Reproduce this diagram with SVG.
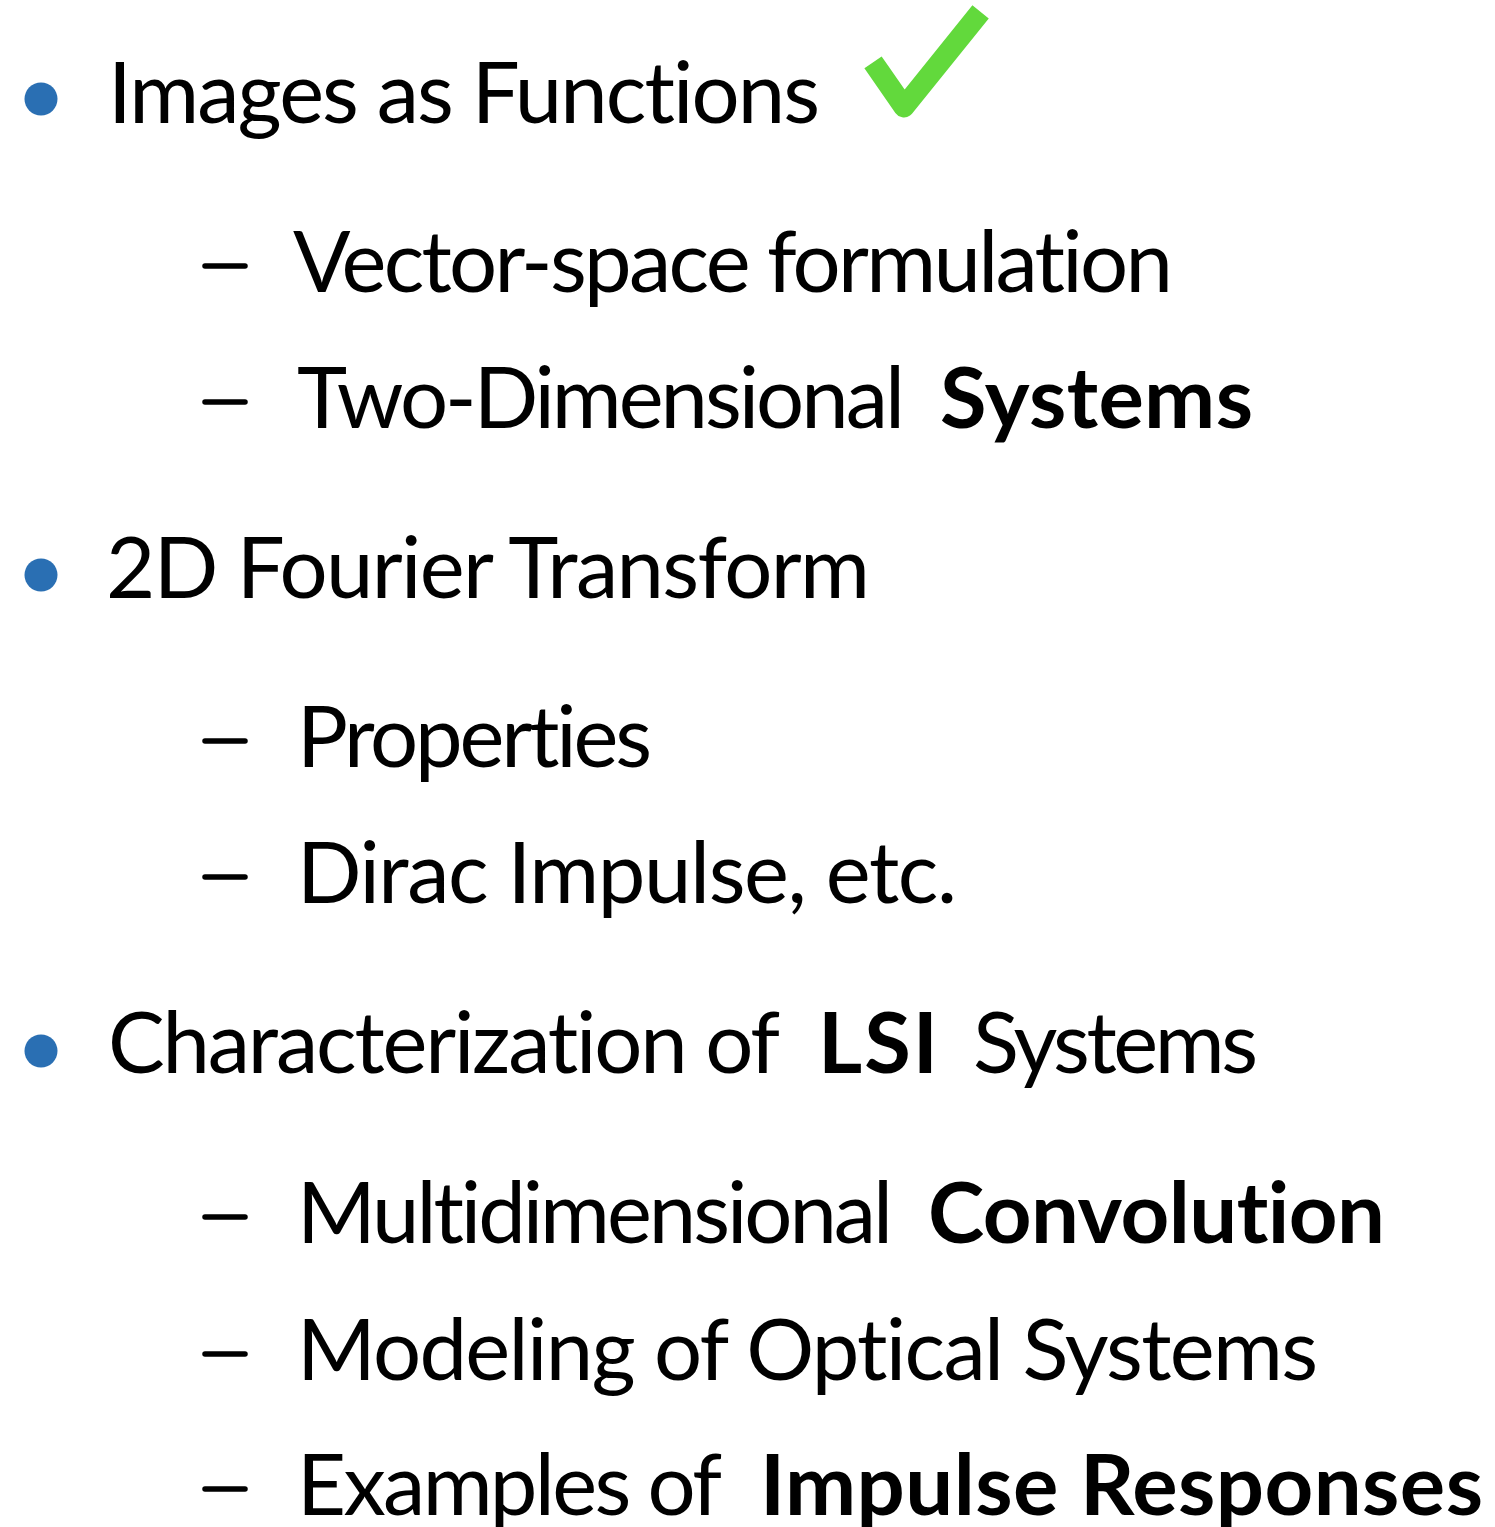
<svg xmlns="http://www.w3.org/2000/svg" width="1495" height="1527" viewBox="0 0 1495 1527">
<style>
.t{font-family:Lato,"Liberation Sans",sans-serif;font-size:85px;fill:#000;font-variant-ligatures:none;font-feature-settings:"liga" 0,"clig" 0}
.b{font-weight:bold}
.bul{fill:#2a6fb3}
.dash{stroke:#000;stroke-width:5.5;stroke-linecap:round}
</style>
<rect width="1495" height="1527" fill="#fff"/>
<g id="item1">
<circle class="bul" cx="41" cy="99" r="16.5"/>
<text class="t" x="108" y="123" textLength="712">Images as Functions</text>
<path d="M879 71 L904 107 L974 20" fill="none" stroke="#62d93c" stroke-width="21" stroke-linejoin="round" stroke-linecap="square"/>
</g>
<g id="item1a">
<line class="dash" x1="205" y1="266" x2="245" y2="266"/>
<text class="t" x="293" y="292" textLength="880">Vector-space formulation</text>
</g>
<g id="item1b">
<line class="dash" x1="205" y1="402" x2="245" y2="402"/>
<text class="t" x="297" y="428" textLength="608">Two-Dimensional</text>
<text class="t b" x="940" y="428" textLength="313">Systems</text>
</g>
<g id="item2">
<circle class="bul" cx="41" cy="575" r="16.5"/>
<text class="t" x="106" y="598" textLength="764">2D Fourier Transform</text>
</g>
<g id="item2a">
<line class="dash" x1="205" y1="741" x2="245" y2="741"/>
<text class="t" x="297" y="767" textLength="355">Properties</text>
</g>
<g id="item2b">
<line class="dash" x1="205" y1="877" x2="245" y2="877"/>
<text class="t" x="297" y="903" textLength="660">Dirac Impulse, etc.</text>
</g>
<g id="item3">
<circle class="bul" cx="41" cy="1051" r="16.5"/>
<text class="t" x="108" y="1073" textLength="672">Characterization of</text>
<text class="t b" x="818" y="1073" textLength="120">LSI</text>
<text class="t" x="973" y="1073" textLength="285">Systems</text>
</g>
<g id="item3a">
<line class="dash" x1="205" y1="1217" x2="245" y2="1217"/>
<text class="t" x="297" y="1243" textLength="596">Multidimensional</text>
<text class="t b" x="928" y="1243" textLength="457">Convolution</text>
</g>
<g id="item3b">
<line class="dash" x1="205" y1="1354" x2="245" y2="1354"/>
<text class="t" x="297" y="1380" textLength="1021">Modeling of Optical Systems</text>
</g>
<g id="item3c">
<line class="dash" x1="205" y1="1489" x2="245" y2="1489"/>
<text class="t" x="297" y="1515" textLength="425">Examples of</text>
<text class="t b" x="760" y="1515" textLength="723">Impulse Responses</text>
</g>
</svg>
